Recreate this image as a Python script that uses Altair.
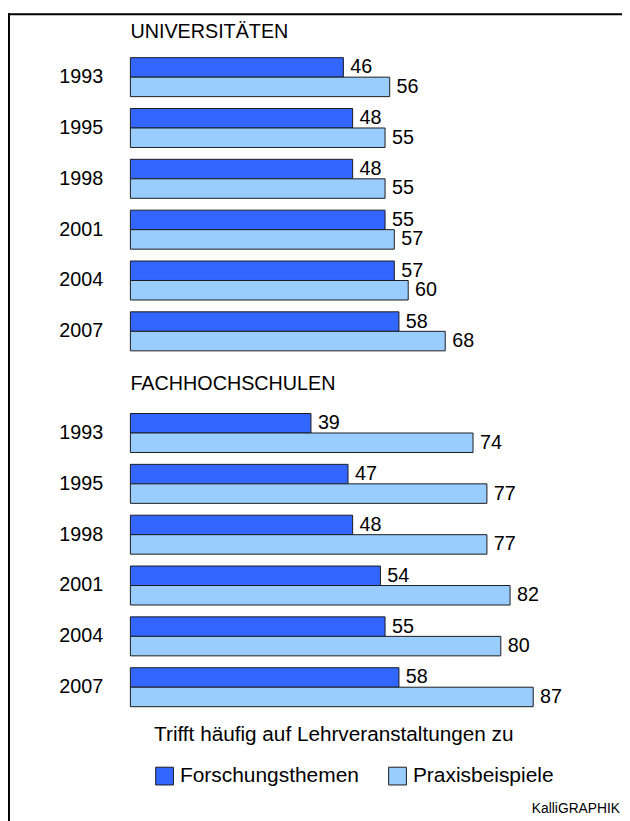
import altair as alt
import pandas as pd

F = "Liberation Sans, Arial, Helvetica, sans-serif"

years = ["1993", "1995", "1998", "2001", "2004", "2007"]
series = ["Forschungsthemen", "Praxisbeispiele"]
uni_forschung = [46, 48, 48, 55, 57, 58]
uni_praxis = [56, 55, 55, 57, 60, 68]
fh_forschung = [39, 47, 48, 54, 55, 58]
fh_praxis = [74, 77, 77, 82, 80, 87]
group_titles = ["UNIVERSITÄTEN", "FACHHOCHSCHULEN"]
legend_title = "Trifft häufig auf Lehrveranstaltungen zu"
credit = "KalliGRAPHIK"
colors = ["#3366FF", "#99CCFF"]

rows = []
for prefix, fo, pr in [("U", uni_forschung, uni_praxis), ("F", fh_forschung, fh_praxis)]:
    for y, a, b in zip(years, fo, pr):
        rows.append({"row": prefix + y, "series": series[0], "value": a})
        rows.append({"row": prefix + y, "series": series[1], "value": b})
df = pd.DataFrame(rows)

row_domain = ["U" + y for y in years] + ["FT"] + ["F" + y for y in years]

yscale = alt.Scale(domain=row_domain, paddingInner=0.233, paddingOuter=0.1165)
yenc = alt.Y("row:N", scale=yscale,
             axis=alt.Axis(title=None, domain=False, ticks=False, tickSize=0, grid=False,
                           labelExpr="datum.value == 'FT' ? '' : slice(datum.value, 1)",
                           labelFont=F, labelFontSize=20, labelColor="black",
                           labelPadding=28, labelAlign="right", labelBaseline="middle"))
yoff = alt.YOffset("series:N", scale=alt.Scale(domain=series, paddingInner=0, paddingOuter=0))
xenc = alt.X("value:Q", scale=alt.Scale(domain=[0, 105.75], nice=False, zero=True), axis=None)

bars = alt.Chart(df).mark_bar(stroke="#1a1a1a", strokeWidth=1, opacity=1).encode(
    x=xenc, y=yenc, yOffset=yoff,
    color=alt.Color("series:N", scale=alt.Scale(domain=series, range=colors),
                    legend=alt.Legend(orient="none", legendX=24, legendY=681,
                                      direction="horizontal", title=legend_title,
                                      titleFont=F, titleFontSize=21, titleFontWeight="normal",
                                      titleColor="black", titlePadding=21, titleLimit=600,
                                      labelFont=F, labelFontSize=21.2, labelColor="black",
                                      labelLimit=400,
                                      labelOffset=5, columnPadding=27,
                                      symbolType="square", symbolSize=324,
                                      symbolStrokeColor="#1a1a1a", symbolStrokeWidth=1,
                                      symbolOpacity=1, padding=0)),
)

labels = alt.Chart(df).mark_text(align="left", baseline="middle", dx=7, font=F,
                                 fontSize=20, color="black").encode(
    x=xenc, y=yenc, yOffset=yoff, text=alt.Text("value:Q")
)

fh_df = pd.DataFrame({"row": ["FT"], "value": [0], "label": [group_titles[1]]})
fh_title = alt.Chart(fh_df).mark_text(align="left", baseline="middle", dy=2, font=F,
                                      fontSize=20, color="black").encode(
    x=xenc, y=yenc, text="label:N"
)

uni_df = pd.DataFrame({"value": [0], "label": [group_titles[0]]})
uni_title = alt.Chart(uni_df).mark_text(align="left", baseline="middle", font=F,
                                        fontSize=20, color="black").encode(
    x=xenc, y=alt.value(-20), text="label:N"
)

credit_df = pd.DataFrame({"label": [credit]})
credit_text = alt.Chart(credit_df).mark_text(align="right", baseline="alphabetic", font=F,
                                             fontSize=14, color="black").encode(
    x=alt.value(496), y=alt.value(771), text="label:N"
)

frame_df = pd.DataFrame({"k": [0]})
top_line = alt.Chart(frame_df).mark_rule(color="black", strokeWidth=2).encode(
    x=alt.value(-124), x2=alt.value(498), y=alt.value(-38)
)
left_line = alt.Chart(frame_df).mark_rule(color="black", strokeWidth=2).encode(
    x=alt.value(-123), y=alt.value(-39), y2=alt.value(780)
)

chart = alt.layer(bars, labels, fh_title, uni_title, credit_text, top_line, left_line).properties(
    width=496, height=669.5,
    autosize=alt.AutoSizeParams(type="none"),
    padding={"left": 124, "top": 39, "right": 2, "bottom": 105},
).configure(background="white").configure_view(stroke=None, strokeWidth=0)

chart.save("out.html", embed_options={"renderer": "svg", "actions": False})
